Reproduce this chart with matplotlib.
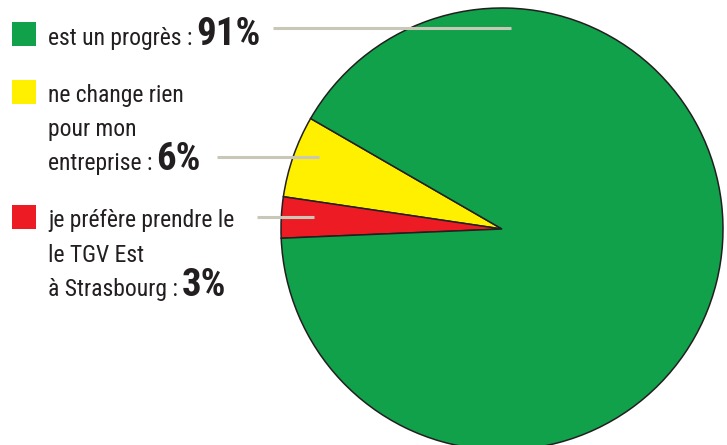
import matplotlib.pyplot as plt
from matplotlib import font_manager

plt.switch_backend('Agg')

# data
labels = ['ne change rien', 'je préfère prendre le TGV Est à Strasbourg', 'est un progrès']
values = [6, 3, 91]
colors = ['#FFF000', '#ED1C24', '#10A14A']

legend_lines = [
    ['est un progrès :'],
    ['ne change rien', 'pour mon', 'entreprise :'],
    ['je préfère prendre le', 'le TGV Est', 'à Strasbourg :'],
]
legend_pcts = ['91%', '6%', '3%']
legend_colors = ['#10A14A', '#FFF000', '#ED1C24']

W, H = 727, 445
TEXT = '#231F20'
LINE = '#C9C8B8'

names = {f.name for f in font_manager.fontManager.ttflist}
font = next((f for f in ['Roboto Condensed', 'Barlow Semi Condensed', 'Asap Condensed']
             if f in names), 'DejaVu Sans')


def Y(y):
    return H - y


fig = plt.figure(figsize=(W / 100, H / 100), dpi=100)
ax = fig.add_axes([0, 0, 1, 1])

ax.pie(values, colors=colors, startangle=150, counterclock=True,
       center=(502, Y(229)), radius=221,
       wedgeprops=dict(edgecolor=TEXT, linewidth=1.1), frame=True)

ax.set_xlim(0, W)
ax.set_ylim(0, H)
ax.set_aspect('equal')
ax.set_axis_off()

# leader lines
leaders = [((273, 511), 28), ((217, 319), 157), ((257, 314), 217)]
for (x0, x1), y in leaders:
    ax.plot([x0, x1], [Y(y), Y(y)], color=LINE, lw=2.2, solid_capstyle='butt', zorder=5)

# legend squares and text
squares = [22, 80, 205]
baselines = [[45], [102, 136, 170], [227, 262, 296]]
fig.canvas.draw()
renderer = fig.canvas.get_renderer()
for top, lines, bls, pct, col in zip(squares, legend_lines, baselines, legend_pcts, legend_colors):
    ax.add_patch(plt.Rectangle((12, Y(top + 24)), 24, 24, color=col, lw=0))
    last = None
    for line, bl in zip(lines, bls):
        last = ax.text(48, Y(bl), line, fontsize=17, family=font, color=TEXT, va='baseline')
    bb = last.get_window_extent(renderer)
    ax.text(bb.x1 + 4, Y(bls[-1]), pct, fontsize=28, family=font, weight='bold',
            color=TEXT, va='baseline')

fig.savefig('out.png', dpi=100)
